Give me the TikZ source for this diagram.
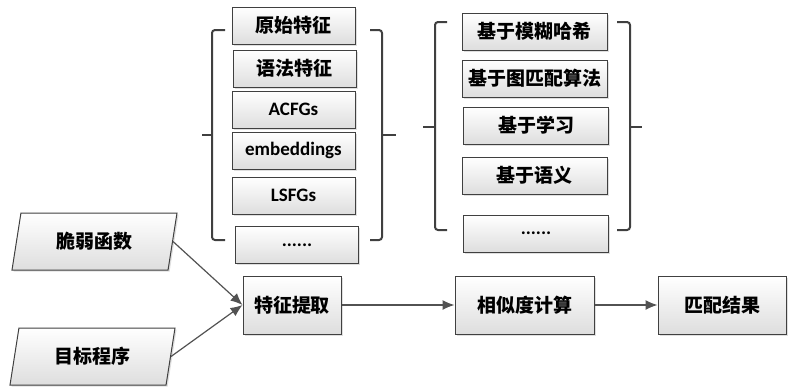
\documentclass[tikz,border=0pt]{standalone}
\usepackage{fontspec}
\setmainfont{Carlito}
\newfontfamily\cjk{Noto Sans CJK SC}
\usetikzlibrary{arrows.meta,shapes.geometric,shadows}
\colorlet{myline}{black!75}
\colorlet{myarrow}{black!68}
\newcommand{\sixdots}{......}
\tikzset{
  >={Latex[length=6,width=5]},
  box/.style={draw=myline,line width=0.5pt,top color=white,bottom color=black!13,
              drop shadow={shadow xshift=0.8pt,shadow yshift=-0.8pt,opacity=0.25},
              inner sep=0,font=\bfseries\fontsize{9.5}{11}\selectfont},
  featbox/.style={box,minimum width=61.5pt,minimum height=18.5pt},
  methbox/.style={box,minimum width=72.5pt,minimum height=18.5pt},
  stepbox/.style={box,minimum height=29pt},
  inbox/.style={box,trapezium,trapezium left angle=64,trapezium right angle=116,
                trapezium stretches body,minimum width=82.5pt,minimum height=28.5pt},
  bracket/.style={draw=myline,line width=1pt,rounded corners=1.5pt},
  connect arrow/.style={->,myarrow,line width=0.6pt}
}
\begin{document}
\begin{tikzpicture}[x=0.5pt,y=-0.5pt]
  \useasboundingbox (0,0) rectangle (789,387);
  % Feature boxes
  \foreach \txt/\x/\y [count=\i] in {{\cjk 原始特征}/293.5/25.5,{\cjk 语法特征}/294.5/68.5,
      ACFGs/293.5/109.5,embeddings/293.5/150.5,LSFGs/293.5/195.5,\sixdots/297/245}{%
    \node[featbox] (f\i) at (\x,\y) {\txt};
  }
  % Method boxes
  \foreach \txt/\x/\y [count=\i] in {{\cjk 基于模糊哈希}/534.5/31.5,{\cjk 基于图匹配算法}/534.5/78.5,
      {\cjk 基于学习}/536/125.5,{\cjk 基于语义}/534.5/175.5,\sixdots/536/233.5}{%
    \node[methbox] (m\i) at (\x,\y) {\txt};
  }
  % Brackets round the two columns
  \draw[bracket] (225,30) -| (212,240) -- (225,240);
  \draw[bracket] (212,135) -- (202,135);
  \draw[bracket] (370,30) -| (382,240) -- (370,240);
  \draw[bracket] (382,135) -- (396,135);
  \draw[bracket] (447,22) -| (435,230) -- (447,230);
  \draw[bracket] (435,127) -- (423,127);
  \draw[bracket] (617,22) -| (630,230) -- (617,230);
  \draw[bracket] (630,127) -- (642,127);
  % Inputs
  \node[inbox] (vuln) at (94.5,241.5) {\cjk 脆弱函数};
  \node[inbox] (target) at (92.5,356.5) {\cjk 目标程序};
  % Process steps
  \node[stepbox,minimum width=49pt] (extract) at (292,305) {\cjk 特征提取};
  \node[stepbox,minimum width=69.5pt] (sim) at (524.5,305) {\cjk 相似度计算};
  \node[stepbox,minimum width=64pt] (result) at (722,305) {\cjk 匹配结果};
  % Connectors
  \draw[connect arrow] (vuln.east) -- (extract.west);
  \draw[connect arrow] (target.east) -- (extract.west);
  \draw[connect arrow] (extract) -- (sim);
  \draw[connect arrow] (sim) -- (result);
\end{tikzpicture}
\end{document}
